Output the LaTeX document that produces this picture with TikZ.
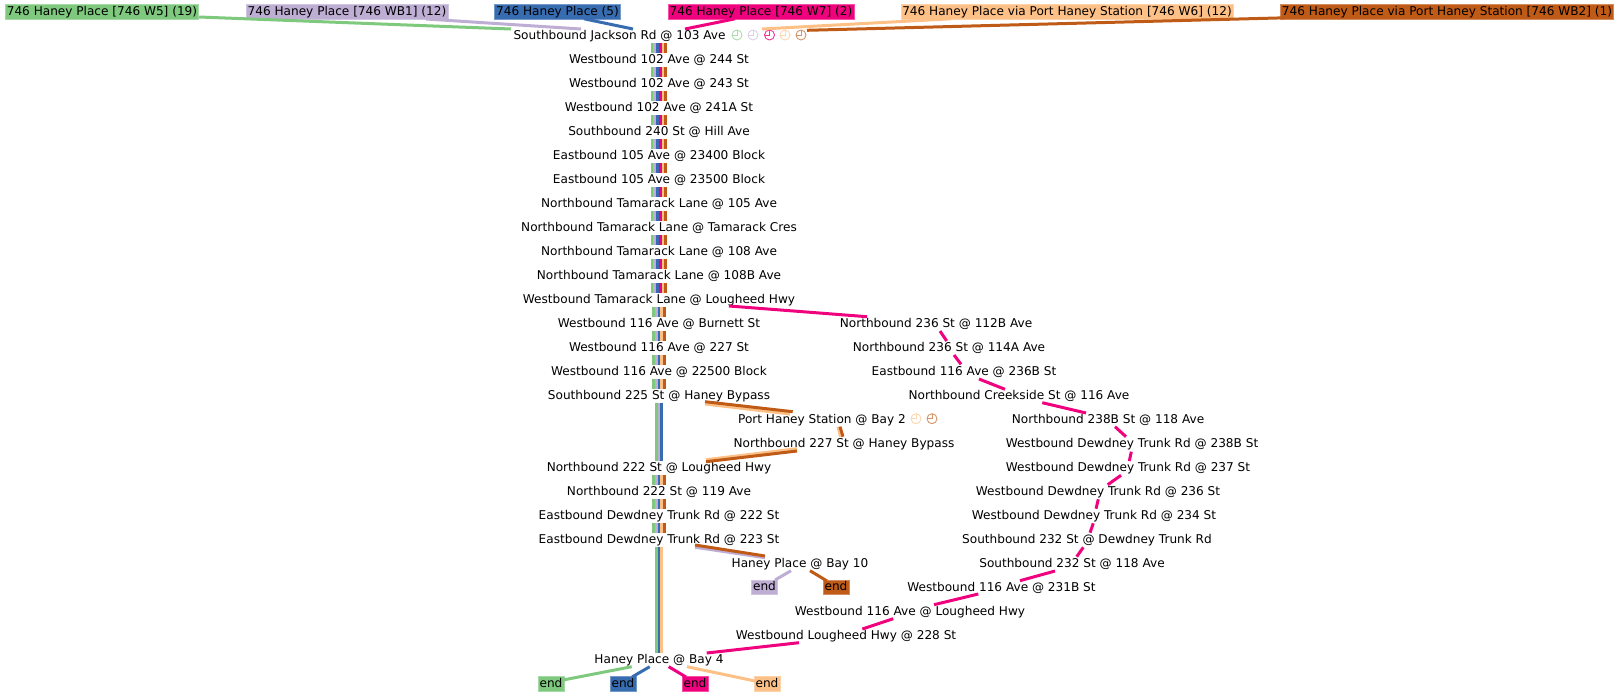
\documentclass[tikz,border=0pt]{standalone}
\usepackage{fontspec}
\setmainfont{DejaVu Sans}
\usetikzlibrary{calc}
\definecolor{cgrn}{HTML}{7FC97F}
\definecolor{cpur}{HTML}{BEAED4}
\definecolor{corg}{HTML}{FDC086}
\definecolor{cblu}{HTML}{386CB0}
\definecolor{cpnk}{HTML}{F0027F}
\definecolor{cbrn}{HTML}{BF5B17}
\tikzset{
  stop/.style={inner sep=0pt,text=black,font=\fontsize{12.1}{14}\selectfont,text height=9.5pt,text depth=0.5pt},
  tag/.style={stop,fill=#1,inner xsep=1.5pt,minimum height=14.3pt,text height=9.5pt,text depth=2.5pt,draw=#1!70!white,line width=.5pt},
  link/.style={line width=3pt,draw=#1},
  stripe/.style={line width=2.75pt,draw=#1},
}
% clock glyph at a named coordinate
\newcommand{\clock}[3]{%
  \coordinate (#1) at (#2);
  \draw[draw=#3,line width=.9pt] (#1) circle (5);
  \draw[draw=#3,line width=.9pt] ($(#1)+(0,-5)$) -- (#1) -- ($(#1)+(-5,0)$);
}
% stripes between two main-column stops
\newcommand{\band}[5]{%
  \foreach \dx/\c in #5 {
    \draw[stripe=\c] ($(spine|-#1)+(\dx,#3)$) -- ($(spine|-#2)+(\dx,#4)$);
  }
}
\newcommand{\conn}[5]{% colour, node, offset, node, offset
  \draw[link=#1] ([shift={(#3)}]#2.center) -- ([shift={(#5)}]#4.center);
}
\def\six{-7.1/cgrn,-4.35/cpur,-1.6/cblu,1.15/cpnk,3.9/corg,6.65/cbrn}
\def\five{-5.6/cgrn,-2.8/cpur,0/cblu,2.8/corg,5.6/cbrn}
\def\threeA{-2.8/cgrn,0/cpur,2.8/cblu}
\def\threeB{-2.8/cgrn,0/cblu,2.8/corg}
\begin{document}
\begin{tikzpicture}[x=1pt,y=-1pt]
\useasboundingbox (0,0) rectangle (1619,696);
\coordinate (spine) at (659,0);
% route tags
\node[tag=cgrn] (w5) at (102,11.8) {746 Haney Place [746 W5] (19)};
\node[tag=cpur] (wb1) at (347,11.8) {746 Haney Place [746 WB1] (12)};
\node[tag=cblu] (h5) at (557.5,11.8) {746 Haney Place (5)};
\node[tag=cpnk] (w7) at (761,11.8) {746 Haney Place [746 W7] (2)};
\node[tag=corg] (w6) at (1067,11.8) {746 Haney Place via Port Haney Station [746 W6] (12)};
\node[tag=cbrn] (wb2) at (1447,11.8) {746 Haney Place via Port Haney Station [746 WB2] (1)};
% main column
\node[stop] (r0) at (619.5,34.7) {Southbound Jackson Rd @ 103 Ave};
\node[stop] (r1) at (659,58.7) {Westbound 102 Ave @ 244 St};
\node[stop] (r2) at (659,82.7) {Westbound 102 Ave @ 243 St};
\node[stop] (r3) at (659,106.7) {Westbound 102 Ave @ 241A St};
\node[stop] (r4) at (659,130.7) {Southbound 240 St @ Hill Ave};
\node[stop] (r5) at (659,154.7) {Eastbound 105 Ave @ 23400 Block};
\node[stop] (r6) at (659,178.7) {Eastbound 105 Ave @ 23500 Block};
\node[stop] (r7) at (659,202.7) {Northbound Tamarack Lane @ 105 Ave};
\node[stop] (r8) at (659,226.7) {Northbound Tamarack Lane @ Tamarack Cres};
\node[stop] (r9) at (659,250.7) {Northbound Tamarack Lane @ 108 Ave};
\node[stop] (r10) at (659,274.7) {Northbound Tamarack Lane @ 108B Ave};
\node[stop] (r11) at (659,298.7) {Westbound Tamarack Lane @ Lougheed Hwy};
\node[stop] (r12) at (659,322.7) {Westbound 116 Ave @ Burnett St};
\node[stop] (r13) at (659,346.7) {Westbound 116 Ave @ 227 St};
\node[stop] (r14) at (659,370.7) {Westbound 116 Ave @ 22500 Block};
\node[stop] (r15) at (659,394.7) {Southbound 225 St @ Haney Bypass};
\node[stop] (r18) at (659,466.7) {Northbound 222 St @ Lougheed Hwy};
\node[stop] (r19) at (659,490.7) {Northbound 222 St @ 119 Ave};
\node[stop] (r20) at (659,514.7) {Eastbound Dewdney Trunk Rd @ 222 St};
\node[stop] (r21) at (659,538.7) {Eastbound Dewdney Trunk Rd @ 223 St};
\node[stop] (bay4) at (659,658.7) {Haney Place @ Bay 4};
% branch: Port Haney
\node[stop] (ph) at (822,418.7) {Port Haney Station @ Bay 2};
\node[stop] (n227) at (844,442.7) {Northbound 227 St @ Haney Bypass};
% branch: Bay 10
\node[stop] (bay10) at (800,562.7) {Haney Place @ Bay 10};
\node[tag=cpur] (e1) at (764.5,587.2) {end};
\node[tag=cbrn] (e2) at (836,587.2) {end};
% ends
\node[tag=cgrn] (e3) at (551,683.7) {end};
\node[tag=cblu] (e4) at (623,683.7) {end};
\node[tag=cpnk] (e5) at (695,683.7) {end};
\node[tag=corg] (e6) at (767,683.7) {end};
% W7 branch
\node[stop] (a1) at (936,322.7) {Northbound 236 St @ 112B Ave};
\node[stop] (a2) at (949,346.7) {Northbound 236 St @ 114A Ave};
\node[stop] (a3) at (964,370.7) {Eastbound 116 Ave @ 236B St};
\node[stop] (a4) at (1019,394.7) {Northbound Creekside St @ 116 Ave};
\node[stop] (a5) at (1108,418.7) {Northbound 238B St @ 118 Ave};
\node[stop] (a6) at (1132,442.7) {Westbound Dewdney Trunk Rd @ 238B St};
\node[stop] (a7) at (1128,466.7) {Westbound Dewdney Trunk Rd @ 237 St};
\node[stop] (a8) at (1098,490.7) {Westbound Dewdney Trunk Rd @ 236 St};
\node[stop] (a9) at (1094,514.7) {Westbound Dewdney Trunk Rd @ 234 St};
\node[stop] (a10) at (1087,538.7) {Southbound 232 St @ Dewdney Trunk Rd};
\node[stop] (a11) at (1072,562.7) {Southbound 232 St @ 118 Ave};
\node[stop] (a12) at (1001.5,586.7) {Westbound 116 Ave @ 231B St};
\node[stop] (a13) at (910,610.7) {Westbound 116 Ave @ Lougheed Hwy};
\node[stop] (a14) at (846,634.7) {Westbound Lougheed Hwy @ 228 St};
% clocks
\clock{k1}{737,35}{cgrn!65!white}
\clock{k2}{753,35}{cpur!55!white}
\clock{k3}{769.5,35}{cpnk!80!white}
\clock{k4}{785,35}{corg!65!white}
\clock{k5}{801,35}{cbrn!65!white}
\clock{k6}{916,418.7}{corg!65!white}
\clock{k7}{932,418.7}{cbrn!65!white}
% stripes
\band{r0}{r1}{8.3}{-6.2}{\six}
\band{r1}{r2}{8.3}{-6.2}{\six}
\band{r2}{r3}{8.3}{-6.2}{\six}
\band{r3}{r4}{8.3}{-6.2}{\six}
\band{r4}{r5}{8.3}{-6.2}{\six}
\band{r5}{r6}{8.3}{-6.2}{\six}
\band{r6}{r7}{8.3}{-6.2}{\six}
\band{r7}{r8}{8.3}{-6.2}{\six}
\band{r8}{r9}{8.3}{-6.2}{\six}
\band{r9}{r10}{8.3}{-6.2}{\six}
\band{r10}{r11}{8.3}{-6.2}{\six}
\band{r11}{r12}{8.3}{-6.2}{\five}
\band{r12}{r13}{8.3}{-6.2}{\five}
\band{r13}{r14}{8.3}{-6.2}{\five}
\band{r14}{r15}{8.3}{-6.2}{\five}
\band{r15}{r18}{8}{-6}{\threeA}
\band{r18}{r19}{8.3}{-6.2}{\five}
\band{r19}{r20}{8.3}{-6.2}{\five}
\band{r20}{r21}{8.3}{-6.2}{\five}
\band{r21}{bay4}{8}{-6}{\threeB}
% top links
\conn{cgrn}{w5}{97,5.2}{r0}{-108.5,-5.7}
\conn{cpur}{wb1}{79,7.2}{r0}{-38.5,-5.7}
\conn{cblu}{h5}{26.5,7}{r0}{13.5,-5.7}
\conn{cpnk}{w7}{-26,7}{r0}{65.5,-5.7}
\conn{corg}{w6}{-116,7}{k4}{-23,-6}
\conn{cbrn}{wb2}{-162,6}{k5}{6,-4.7}
% W7 branch links
\conn{cpnk}{r11}{70,7.3}{a1}{-69,-6}
\conn{cpnk}{a1}{4,8.3}{a2}{-2.3,-5.7}
\conn{cpnk}{a2}{5,8.3}{a3}{-3,-6.4}
\conn{cpnk}{a3}{15,8.3}{a4}{-14,-5.4}
\conn{cpnk}{a4}{23.3,8}{a5}{-22,-5.7}
\conn{cpnk}{a5}{7,8}{a6}{-6,-6}
\conn{cpnk}{a6}{-0.7,9}{a7}{1.3,-5.7}
\conn{cpnk}{a7}{-7,8.6}{a8}{9.7,-6}
\conn{cpnk}{a8}{0.3,8.6}{a9}{2,-6}
\conn{cpnk}{a9}{-0.7,8.6}{a10}{3,-6}
\conn{cpnk}{a10}{-3.7,8.6}{a11}{4.7,-6}
\conn{cpnk}{a11}{-17,8.3}{a12}{18.5,-6}
\conn{cpnk}{a12}{-23.2,7.3}{a13}{24,-6}
\conn{cpnk}{a13}{-16.7,8}{a14}{16.3,-5.7}
\conn{cpnk}{a14}{-47,8}{bay4}{47.7,-5.7}
% Port Haney links
\conn{corg}{r15}{46,9.3}{ph}{-32,-4.7}
\conn{cbrn}{r15}{46,7}{ph}{-29.3,-7}
\conn{corg}{ph}{16,8}{n227}{-3.5,-6}
\conn{cbrn}{ph}{18,8}{n227}{-1,-6}
\conn{corg}{n227}{-47,6}{r18}{47,-7}
\conn{cbrn}{n227}{-47,8.3}{r18}{47,-5}
% Bay 10 links
\conn{cpur}{r21}{36,8.5}{bay10}{-35,-5}
\conn{cbrn}{r21}{36,6.3}{bay10}{-35,-6.7}
\conn{cpur}{bay10}{-9,8}{e1}{10.5,-7.2}
\conn{cbrn}{bay10}{10,8}{e2}{-9,-6.2}
% Bay 4 links
\conn{cgrn}{bay4}{-27.3,8}{e3}{12,-3.7}
\conn{cblu}{bay4}{-9.3,8}{e4}{9,-6.7}
\conn{cpnk}{bay4}{9.7,8}{e5}{-9,-6.7}
\conn{corg}{bay4}{28,8}{e6}{-12,-2.7}
\end{tikzpicture}
\end{document}
